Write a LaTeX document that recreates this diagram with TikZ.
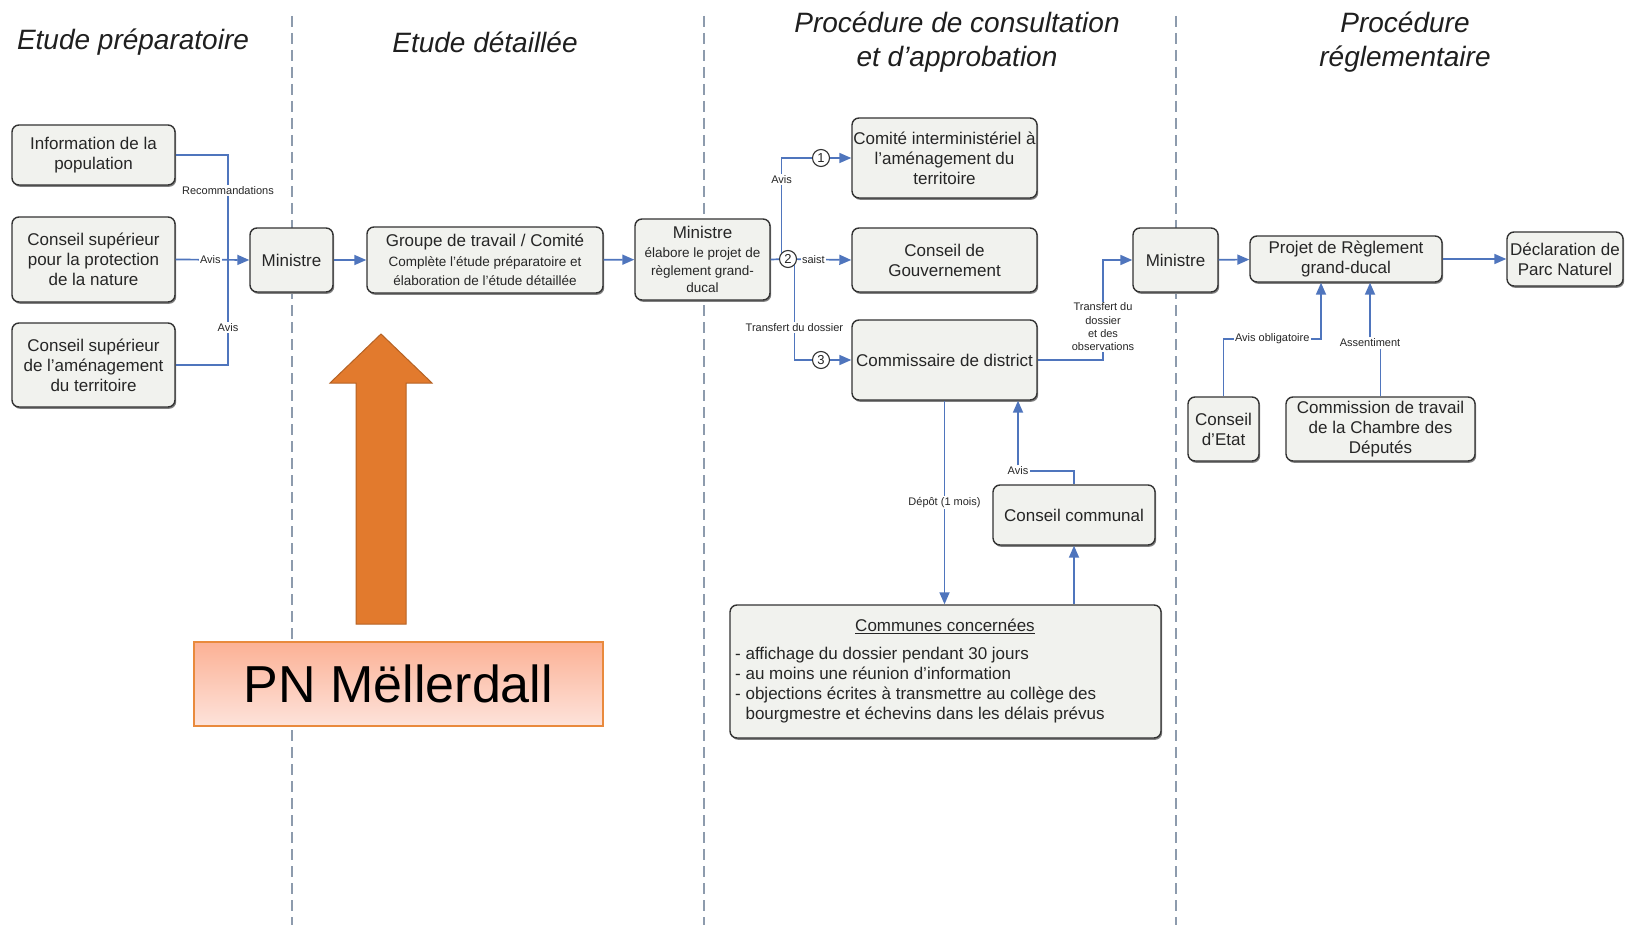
\documentclass[tikz,border=0pt]{standalone}
\usepackage{fontspec}
\setmainfont{Liberation Sans}
\usetikzlibrary{arrows.meta,shadows,positioning}

\definecolor{flowblue}{HTML}{4F75BD}
\definecolor{boxfill}{HTML}{F1F2EE}
\definecolor{sepgray}{HTML}{8D9BAD}
\definecolor{pnorange}{HTML}{E27A2D}
\definecolor{pntop}{HTML}{FCB195}
\definecolor{pnbot}{HTML}{FDE3DB}
\definecolor{pnline}{HTML}{E98A3D}

\newcommand{\petit}{\fontsize{13.5}{16.8}\selectfont}

\tikzset{
  box/.style={draw=black!80, line width=1.4pt, fill=boxfill, rounded corners=7pt,
    align=center, inner sep=0pt, text=black!85, font=\fontsize{17}{20}\selectfont,
    drop shadow={shadow xshift=1.2pt, shadow yshift=-1.8pt, fill=black!50, opacity=1}},
  flow/.style={flowblue, line width=1.7pt},
  arr/.style={flow, -{Triangle[length=12pt, width=10pt]}},
  lbl/.style={fill=white, inner sep=1.5pt, text=black!85, align=center, font=\fontsize{11}{13.3}\selectfont},
  num/.style={circle, draw=black!80, fill=white, line width=1.1pt, minimum size=17pt,
    inner sep=0pt, text=black!85, font=\fontsize{13}{13}\selectfont},
  phase/.style={align=center, text=black!88, font=\fontsize{28}{34}\selectfont\itshape},
  sep/.style={sepgray, line width=1.4pt, dash pattern=on 11pt off 6pt}
}

\begin{document}
\begin{tikzpicture}[x=1pt, y=-1pt]
  \fill[white] (0,0) rectangle (1629,925);
  \useasboundingbox (0,0) rectangle (1629,925);

  % phases
  \foreach \sx in {292,704,1176}
    \draw[sep] (\sx,16) -- (\sx,925);
  \node[phase] (ph1) at (133,42) {Etude préparatoire};
  \node[phase] (ph2) at (485,42) {Etude détaillée};
  \node[phase] (ph3) at (957,42) {Procédure de consultation\\et d’approbation};
  \node[phase] (ph4) at (1405,42) {Procédure\\réglementaire};

  % etude preparatoire
  \node[box, minimum width=163pt, minimum height=60pt] (info) at (93.5,155) {Information de la\\population};
  \node[box, minimum width=163pt, minimum height=85pt] (cspn) at (93.5,259.5) {Conseil supérieur\\pour la protection\\de la nature};
  \node[box, minimum width=163pt, minimum height=84pt] (csat) at (93.5,365) {Conseil supérieur\\de l’aménagement\\du territoire};
  \node[box, minimum width=83pt, minimum height=64pt] (min1) at (291.5,260) {Ministre};
  \coordinate (bustop) at (228,155);
  \coordinate (busbot) at (228,365);
  \draw[flow] (info.east) -- (bustop) -- node[lbl, pos=0.17]{Recommandations}
    node[lbl, pos=0.82]{Avis} (busbot) -- (csat.east);
  \draw[arr] (cspn.east) -- node[lbl, pos=0.47]{Avis} (min1.west);

  % etude detaillee
  \node[box, minimum width=236pt, minimum height=66pt] (groupe) at (485,260)
    {Groupe de travail / Comité\\\petit Complète l’étude préparatoire et\\[-1.5pt]\petit élaboration de l’étude détaillée};
  \node[box, minimum width=135pt, minimum height=81pt] (min2) at (702.5,259.5)
    {Ministre\\[-1pt]\petit élabore le projet de\\[-2pt]\petit règlement grand-\\[-2.5pt]\petit ducal};
  \draw[arr] (min1) -- (groupe);
  \draw[arr] (groupe) -- (min2);

  % consultation
  \node[box, minimum width=185pt, minimum height=80pt] (comite) at (944.5,158) {Comité interministériel à\\l’aménagement du\\territoire};
  \node[box, minimum width=185pt, minimum height=64pt] (cgouv) at (944.5,260) {Conseil de\\Gouvernement};
  \node[box, minimum width=185pt, minimum height=80pt] (commis) at (944.5,360) {Commissaire de district};
  \node[box, minimum width=162pt, minimum height=60pt] (ccom) at (1074,515) {Conseil communal};
  \node[box, minimum width=431pt, minimum height=133pt] (communes) at (945.5,671.5) {};
  \node[text=black!85, font=\fontsize{17}{20}\selectfont] (comtitle) at (945,626) {\underline{Communes concernées}};
  \node[text=black!85, font=\fontsize{17}{20}\selectfont, align=left, anchor=west, inner sep=0pt] (comlist) at (735,685)
    {- affichage du dossier pendant 30 jours\\- au moins une réunion d’information\\- objections écrites à transmettre au collège des\\\phantom{- }bourgmestre et échevins dans les délais prévus};

  \node[num] (n1) at (821,158) {1};
  \node[num] (n2) at (788,259) {2};
  \node[num] (n3) at (821,360) {3};
  \draw[flow] (min2.east) -- (n2);
  \draw[flow] (n2.north west) |- node[lbl, pos=0.385]{Avis} (n1);
  \draw[flow] (n2.south east) |- node[lbl, pos=0.33]{Transfert du dossier} (n3);
  \draw[arr] (n1) -- (comite.west);
  \draw[arr] (n2) -- node[lbl, pos=0.3]{saist} (cgouv.west);
  \draw[arr] (n3) -- (commis.west);

  \draw[arr] (commis.south) -- node[lbl]{Dépôt (1 mois)} (commis.south |- communes.north);
  \draw[arr] (communes.north -| ccom) -- (ccom.south);
  \node[lbl] (lavis) at (1018,471) {Avis};
  \draw[flow] (ccom.north) |- (lavis.east);
  \draw[arr] (lavis.north) -- (lavis.north |- commis.south);

  % procedure reglementaire
  \node[box, minimum width=85pt, minimum height=64pt] (min3) at (1175.5,260) {Ministre};
  \node[box, minimum width=192pt, minimum height=46pt] (projet) at (1346,259) {Projet de Règlement\\grand-ducal};
  \node[box, minimum width=116pt, minimum height=54pt] (decl) at (1565,259) {Déclaration de\\Parc Naturel};
  \node[box, minimum width=71pt, minimum height=64pt] (cetat) at (1223.5,429) {Conseil\\d’Etat};
  \node[box, minimum width=189pt, minimum height=64pt] (commission) at (1380.5,429) {Commission de travail\\de la Chambre des\\Députés};
  \coordinate (trtop) at (1103,260);
  \draw[arr] (commis.east) -| node[lbl, pos=0.665]{Transfert du\\dossier\\et des\\observations} (trtop) -- (min3.west);
  \draw[arr] (min3) -- (projet);
  \draw[arr] (projet) -- (decl);
  \coordinate (aoknee) at (1321,339);
  \draw[arr] (cetat.north) |- node[lbl, pos=0.75]{Avis obligatoire} (aoknee) -- (aoknee |- projet.south);
  \node[lbl] (lassent) at (1370,343) {Assentiment};
  \draw[flow] (commission.north) -- (commission.north |- lassent.south);
  \draw[arr] (lassent.north) -- (lassent.north |- projet.south);

  % PN Mellerdall
  \draw[pnorange!80!black, fill=pnorange, line width=1pt]
    (356,624) -- (356,383) -- (330,383) -- (381,334) -- (432,383) -- (406,383) -- (406,624) -- cycle;
  \node[draw=pnline, line width=1.5pt, top color=pntop, bottom color=pnbot, minimum width=409pt,
    minimum height=84pt, font=\fontsize{52}{60}\selectfont] (pn) at (398.5,684) {PN Mëllerdall};
\end{tikzpicture}
\end{document}
